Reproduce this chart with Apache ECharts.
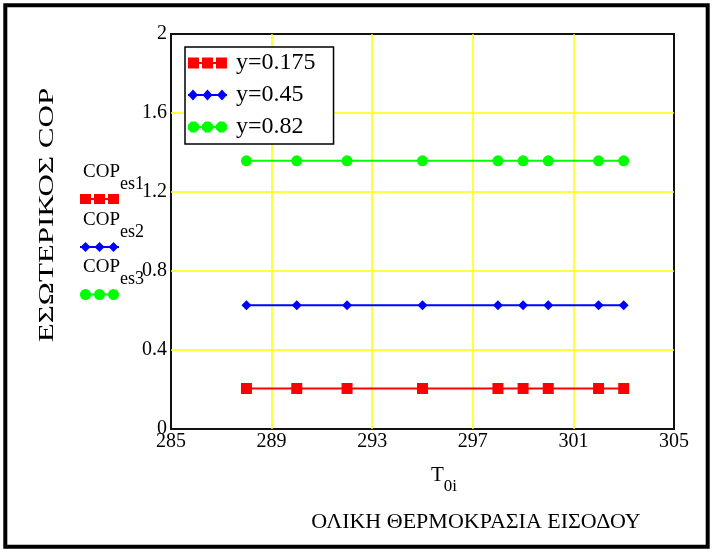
<!DOCTYPE html>
<html>
<head>
<meta charset="utf-8">
<script src="https://cdn.jsdelivr.net/npm/echarts@6/dist/echarts.min.js"></script>
<style>
  html, body { margin: 0; padding: 0; background: #fff; }
  #chart { width: 713px; height: 552px; }
</style>
</head>
<body>
<div id="chart"></div>
<script>
// Inlet total temperature (K)
const temperatures = [288, 290, 292, 295, 298, 299, 300, 302, 303];
// Internal COP for each y value
const copEs1 = [0.205, 0.205, 0.205, 0.205, 0.205, 0.205, 0.205, 0.205, 0.205];
const copEs2 = [0.627, 0.627, 0.627, 0.627, 0.627, 0.627, 0.627, 0.627, 0.627];
const copEs3 = [1.358, 1.358, 1.358, 1.358, 1.358, 1.358, 1.358, 1.358, 1.358];
const seriesNames = ['y=0.175', 'y=0.45', 'y=0.82'];
const xTicks = [285, 289, 293, 297, 301, 305];
const yTicks = [0, 0.4, 0.8, 1.2, 1.6, 2];

const SERIF = '"Liberation Serif", "Times New Roman", serif';
const RED = '#ff0000', BLUE = '#0000ff', GREEN = '#00ff00';
const GRID_YELLOW = '#ffff00';

// octagon outline used as a round marker in the key icons
function octagon(cx, cy, r) {
  const pts = [];
  for (let k = 0; k < 8; k++) {
    const a = Math.PI / 8 + k * Math.PI / 4;
    pts.push((cx + r * Math.cos(a)).toFixed(2) + ',' + (cy + r * Math.sin(a)).toFixed(2));
  }
  return 'M' + pts.join('L') + 'Z';
}

// three-marker legend icons joined by a line
const iconSquares = 'path://M0,0h11v11h-11z M14,0h11v11h-11z M28,0h11v11h-11z M0,4.5h39v2h-39z';
const iconDiamonds = 'path://M5,0L10,5.5L5,11L0,5.5Z M19.5,0L24.5,5.5L19.5,11L14.5,5.5Z M34,0L39,5.5L34,11L29,5.5Z M0,4.5h39v2h-39z';
const iconCircles = 'path://' + octagon(5.5, 5.5, 5.95) + ' ' + octagon(19.5, 5.5, 5.95) + ' ' +
  octagon(33.5, 5.5, 5.95) + ' M0,4.5h39v2h-39z';

function pairs(ys) { return temperatures.map((t, i) => [t, ys[i]]); }

// small key glyph: a line with three markers, built from graphic primitives
function keyGlyph(kind, color, x, cy) {
  const children = [
    { type: 'rect', shape: { x: x, y: cy - 1, width: 39, height: 2 }, style: { fill: color } }
  ];
  [5.5, 19.5, 33.5].forEach(dx => {
    const cx = x + dx;
    if (kind === 'rect') {
      children.push({ type: 'rect', shape: { x: cx - 5.5, y: cy - 5, width: 11, height: 10 }, style: { fill: color } });
    } else if (kind === 'diamond') {
      children.push({ type: 'polygon', shape: { points: [[cx, cy - 5], [cx + 5, cy], [cx, cy + 5], [cx - 5, cy]] }, style: { fill: color } });
    } else {
      children.push({ type: 'circle', shape: { cx: cx, cy: cy, r: 5.5 }, style: { fill: color } });
    }
  });
  return { type: 'group', children: children, silent: true };
}

function sideKey(label, color, kind, top, glyphY) {
  return [
    {
      type: 'text', x: 83, y: top,
      style: {
        text: '{a|COP}{b|' + label + '}',
        rich: {
          a: { fontFamily: SERIF, fontSize: 19, fill: '#000', verticalAlign: 'top', lineHeight: 18 },
          b: { fontFamily: SERIF, fontSize: 18, fill: '#000', verticalAlign: 'bottom', lineHeight: 30 }
        }
      }
    },
    keyGlyph(kind, color, 80, glyphY)
  ];
}

const chart = echarts.init(document.getElementById('chart'), null, { renderer: 'canvas' });

const option = {
  backgroundColor: '#fff',
  animation: false,
  grid: {
    left: 171, top: 34, right: 39, bottom: 123,
    show: true, borderColor: '#111', borderWidth: 2, backgroundColor: 'transparent'
  },
  xAxis: {
    type: 'value', min: 285, max: 305, interval: 4,
    axisLine: { show: false }, axisTick: { show: false },
    axisLabel: {
      margin: 3, fontFamily: SERIF, fontSize: 20, color: '#000',
      formatter: v => xTicks.includes(v) ? String(v) : ''
    },
    splitLine: { show: true, showMinLine: false, showMaxLine: false,
      lineStyle: { color: GRID_YELLOW, width: 1.5 } }
  },
  yAxis: {
    type: 'value', min: 0, max: 2, interval: 0.4,
    axisLine: { show: false }, axisTick: { show: false },
    axisLabel: {
      margin: 4, fontFamily: SERIF, fontSize: 20, color: '#000',
      formatter: v => { const t = yTicks.find(k => Math.abs(k - v) < 1e-9); return t === undefined ? '' : String(t); }
    },
    splitLine: { show: true, showMinLine: false, showMaxLine: false,
      lineStyle: { color: GRID_YELLOW, width: 1.5 } }
  },
  legend: {
    left: 185, top: 47, orient: 'vertical',
    backgroundColor: '#fff', borderColor: '#000', borderWidth: 1.5,
    padding: [4, 18, 5, 3], itemGap: 8, itemWidth: 39, itemHeight: 11,
    textStyle: { fontFamily: SERIF, fontSize: 24, color: '#000', lineHeight: 24, padding: [0, 0, 0, 4] },
    data: [
      { name: seriesNames[0], icon: iconSquares, itemStyle: { color: RED } },
      { name: seriesNames[1], icon: iconDiamonds, itemStyle: { color: BLUE } },
      { name: seriesNames[2], icon: iconCircles, itemStyle: { color: GREEN } }
    ]
  },
  series: [
    {
      name: seriesNames[0], type: 'line', data: pairs(copEs1),
      symbol: 'rect', symbolSize: 11, color: RED,
      lineStyle: { color: RED, width: 2 }, itemStyle: { color: RED }
    },
    {
      name: seriesNames[1], type: 'line', data: pairs(copEs2),
      symbol: 'diamond', symbolSize: [10, 10], color: BLUE,
      lineStyle: { color: BLUE, width: 2 }, itemStyle: { color: BLUE }
    },
    {
      name: seriesNames[2], type: 'line', data: pairs(copEs3),
      symbol: 'circle', symbolSize: 11, color: GREEN,
      lineStyle: { color: GREEN, width: 2 }, itemStyle: { color: GREEN }
    }
  ],
  graphic: [
    // outer frame
    { type: 'rect', shape: { x: 5.3, y: 5.3, width: 702.4, height: 541.4 },
      style: { fill: 'none', stroke: '#000', lineWidth: 4 }, silent: true },
    // vertical axis title, stretched along its length
    { type: 'text', x: 47, y: 215, rotation: Math.PI / 2, scaleX: 1.41,
      style: { text: 'ΕΣΩΤΕΡΙΚΟΣ COP', fontFamily: SERIF, fontSize: 22, fill: '#000',
        align: 'center', verticalAlign: 'middle' } },
    // axis variable name
    { type: 'text', x: 431, y: 465,
      style: {
        text: '{t|T}{s|0i}',
        rich: {
          t: { fontFamily: SERIF, fontSize: 21, fill: '#000', verticalAlign: 'top', lineHeight: 20 },
          s: { fontFamily: SERIF, fontSize: 17, fill: '#000', verticalAlign: 'bottom', lineHeight: 30 }
        }
      } },
    // horizontal axis title
    { type: 'text', x: 476, y: 522,
      style: { text: 'ΟΛΙΚΗ ΘΕΡΜΟΚΡΑΣΙΑ ΕΙΣΟΔΟΥ', fontFamily: SERIF, fontSize: 22, fill: '#000',
        align: 'center', verticalAlign: 'middle' } },
    ...sideKey('es1', RED, 'rect', 163, 199),
    ...sideKey('es2', BLUE, 'diamond', 211, 247),
    ...sideKey('es3', GREEN, 'circle', 258, 294.5)
  ]
};

chart.setOption(option);
</script>
</body>
</html>
